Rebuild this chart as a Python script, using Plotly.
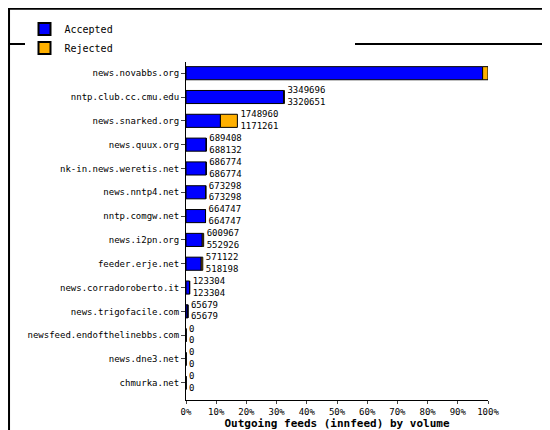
import plotly.graph_objects as go

feeds = ["news.novabbs.org", "nntp.club.cc.cmu.edu", "news.snarked.org", "news.quux.org",
         "nk-in.news.weretis.net", "news.nntp4.net", "nntp.comgw.net", "news.i2pn.org",
         "feeder.erje.net", "news.corradoroberto.it", "news.trigofacile.com",
         "newsfeed.endofthelinebbs.com", "news.dne3.net", "chmurka.net"]
offered = [10278521, 3349696, 1748960, 689408, 686774, 673298, 664747, 600967,
           571122, 123304, 65679, 0, 0, 0]
accepted = [10095241, 3320651, 1171261, 688132, 686774, 673298, 664747, 552926,
            518198, 123304, 65679, 0, 0, 0]

top = max(offered)
pct_off = [v / top * 100 for v in offered]
pct_acc = [v / top * 100 for v in accepted]
labels = [f"{a}<br>{b}" for a, b in zip(offered, accepted)]

font = "DejaVu Sans Mono"
fig = go.Figure()
fig.add_trace(go.Bar(y=feeds, x=pct_acc, orientation="h", name="Accepted",
                     marker=dict(color="#0000ff", line=dict(color="black", width=1)),
                     width=0.55, hoverinfo="skip"))
fig.add_trace(go.Bar(y=feeds, x=[o - a for o, a in zip(pct_off, pct_acc)], orientation="h",
                     name="Rejected", base=pct_acc,
                     marker=dict(color="#ffb000", line=dict(color="black", width=1)),
                     width=0.55, hoverinfo="skip"))
fig.add_trace(go.Scatter(y=feeds, x=[p + 1 for p in pct_off], mode="text", text=labels,
                         textposition="middle right", showlegend=False, cliponaxis=False,
                         textfont=dict(family=font, size=9, color="black"), hoverinfo="skip"))

fig.update_layout(
    width=550, height=430, barmode="overlay",
    margin=dict(l=178, r=70, t=48, b=38, autoexpand=False),
    paper_bgcolor="white", plot_bgcolor="white",
    font=dict(family=font, size=9, color="black"),
    legend=dict(orientation="h", xref="container", yref="container", x=0.03, y=0.985,
                xanchor="left", yanchor="top", font=dict(size=10),
                entrywidth=285, entrywidthmode="pixels", itemsizing="constant"),
    xaxis=dict(range=[0, 100], dtick=10, ticksuffix="%", showgrid=False,
               showline=True, linecolor="black", ticks="outside", ticklen=3,
               title=dict(text="<b>Outgoing feeds (innfeed) by volume</b>",
                          font=dict(size=11), standoff=2)),
    yaxis=dict(categoryorder="array", categoryarray=feeds[::-1], showline=True,
               linecolor="black", ticks="outside", ticklen=4, showgrid=False,
               automargin=False),
    shapes=[
        dict(type="rect", xref="paper", yref="paper", x0=-0.586, x1=1.228, y0=-0.107, y1=1.137,
             line=dict(color="black", width=2)),
        dict(type="line", xref="paper", yref="paper", x0=-0.586, x1=1.228, y0=1.035, y1=1.035,
             line=dict(color="black", width=2)),
    ],
)
fig.write_html("out.html")
